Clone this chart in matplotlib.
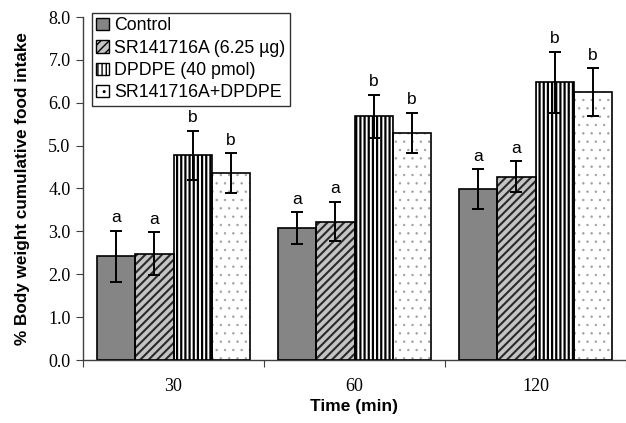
import numpy as np
import matplotlib
matplotlib.use("Agg")
import matplotlib.pyplot as plt
from matplotlib.patches import Patch

# data
times = ["30", "60", "120"]
groups = ["Control", "SR141716A (6.25 \u00b5g)", "DPDPE (40 pmol)", "SR141716A+DPDPE"]
means = {
    "Control": [2.42, 3.08, 3.99],
    "SR141716A (6.25 \u00b5g)": [2.48, 3.23, 4.27],
    "DPDPE (40 pmol)": [4.77, 5.68, 6.48],
    "SR141716A+DPDPE": [4.36, 5.29, 6.24],
}
errors = {
    "Control": [0.60, 0.37, 0.46],
    "SR141716A (6.25 \u00b5g)": [0.50, 0.46, 0.36],
    "DPDPE (40 pmol)": [0.58, 0.51, 0.71],
    "SR141716A+DPDPE": [0.46, 0.47, 0.56],
}
letters = {
    "Control": ["a", "a", "a"],
    "SR141716A (6.25 \u00b5g)": ["a", "a", "a"],
    "DPDPE (40 pmol)": ["b", "b", "b"],
    "SR141716A+DPDPE": ["b", "b", "b"],
}

# face colour, hatch, hatch colour, hatch linewidth
styles = {
    "Control": ("#858585", "", "#858585", 1.0),
    "SR141716A (6.25 \u00b5g)": ("#c4c4c4", "////", "#2a2a2a", 1.5),
    "DPDPE (40 pmol)": ("white", "||||", "black", 1.6),
    "SR141716A+DPDPE": ("white", "..", "#a0a0a0", 0.5),
}

fig = plt.figure(figsize=(6.26, 4.23), dpi=100)
ax = fig.add_axes([83 / 626, 1 - 360 / 423, 1 - 83 / 626, (360 - 17) / 423])

x = np.arange(len(times))
w = 0.21
serif = "Liberation Serif"
sans = "Liberation Sans"

for i, g in enumerate(groups):
    fc, hatch, hc, hlw = styles[g]
    xs = x + (i - 1.5) * w
    plt.rcParams["hatch.linewidth"] = hlw
    ax.bar(xs, means[g], w, color=fc, hatch=hatch, edgecolor=hc, linewidth=0, zorder=2)
    ax.bar(xs, means[g], w, fill=False, edgecolor="black", linewidth=1.2, zorder=3)
    ax.errorbar(xs, means[g], yerr=errors[g], fmt="none", ecolor="black",
                elinewidth=1.4, capsize=4, capthick=1.4, zorder=4)
    for xi, m, e, lab in zip(xs, means[g], errors[g], letters[g]):
        ax.annotate(lab, (xi, m + e), xytext=(0, 4), textcoords="offset points",
                    ha="center", va="bottom", fontsize=12.5, family=sans)

ax.set_xlim(-0.5, 2.5)
ax.set_ylim(0, 8)
ax.set_yticks(np.arange(0, 8.1, 1.0))
ax.set_yticklabels([f"{v:.1f}" for v in np.arange(0, 8.1, 1.0)], family=serif, fontsize=13)
ax.set_xticks([-0.5, 0.5, 1.5, 2.5])
ax.set_xticklabels([])
ax.set_xticks(x, minor=True)
ax.set_xticklabels(times, minor=True, family=serif, fontsize=13)
ax.tick_params(axis="x", which="minor", length=0, pad=13)
ax.tick_params(axis="x", which="major", direction="out", length=5, color="#404040")
ax.tick_params(axis="y", direction="out", length=5, color="#404040", pad=4)

for s in ["top", "right"]:
    ax.spines[s].set_visible(False)
for s in ["left", "bottom"]:
    ax.spines[s].set_color("#404040")
    ax.spines[s].set_linewidth(1.0)

ax.set_xlabel("Time (min)", fontsize=12.5, fontweight="bold", family=sans, labelpad=3)
ax.set_ylabel("% Body weight cumulative food intake", fontsize=12.3, fontweight="bold",
              family=sans, labelpad=13)

handles = []
for g in groups:
    fc, hatch, hc, hlw = styles[g]
    plt.rcParams["hatch.linewidth"] = 1.0
    handles.append(Patch(facecolor=fc, hatch=hatch, edgecolor="black", linewidth=1.0))
leg = ax.legend(handles, groups, loc="upper left", bbox_to_anchor=(0.016, 1.012),
                prop={"family": sans, "size": 12.8}, frameon=True, fancybox=False,
                edgecolor="black", handlelength=0.7, handleheight=0.7,
                handletextpad=0.3, labelspacing=0.3, borderpad=0.25, borderaxespad=0)
leg.get_frame().set_linewidth(1.0)

fig.savefig("out.png", dpi=100)
